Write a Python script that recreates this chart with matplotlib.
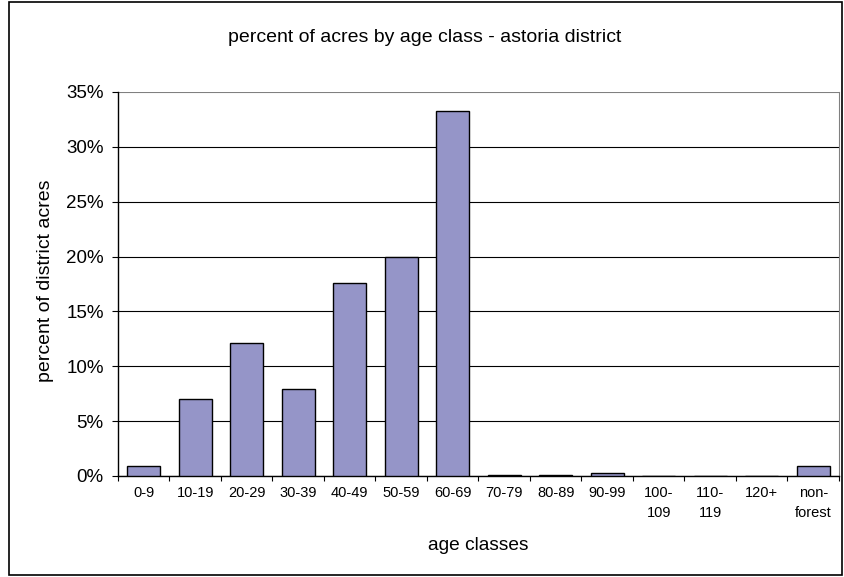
import numpy as np
import matplotlib.pyplot as plt
from matplotlib.patches import Rectangle
from matplotlib.ticker import FuncFormatter

plt.rcParams['font.family'] = ['Liberation Sans', 'DejaVu Sans']

classes = ['0-9', '10-19', '20-29', '30-39', '40-49', '50-59', '60-69',
           '70-79', '80-89', '90-99', '100-\n109', '110-\n119', '120+', 'non-\nforest']
pct_acres = [0.9, 7.0, 12.1, 7.9, 17.6, 20.0, 33.3,
             0.1, 0.1, 0.25, 0.0, 0.0, 0.0, 0.9]
y_ticks = [0, 5, 10, 15, 20, 25, 30, 35]

W, H = 845, 577
fig = plt.figure(figsize=(W / 100, H / 100), dpi=100)
ax = fig.add_axes([118/W, 1 - 476/H, (839-118)/W, (476-92)/H])

x = np.arange(len(classes))
ax.bar(x, pct_acres, width=0.65, color='#9595C8', edgecolor='black', linewidth=1.0, zorder=3)

ax.set_xlim(-0.5, len(classes) - 0.5)
ax.set_ylim(0, 35)
ax.set_yticks(y_ticks)
ax.yaxis.set_major_formatter(FuncFormatter(lambda v, p: '%d%%' % v))
ax.grid(axis='y', color='black', linewidth=0.8, zorder=0)
ax.get_ygridlines()[-1].set_color('#808080')

# category labels centred, ticks on the category boundaries
ax.set_xticks(x)
ax.set_xticklabels(classes, fontsize=10.5, linespacing=1.6)
ax.tick_params(axis='x', length=0, pad=7)
ax.set_xticks(np.arange(-0.5, len(classes)), minor=True)
ax.tick_params(axis='x', which='minor', length=3.5, width=0.8, direction='out')
ax.tick_params(axis='y', length=4.3, width=0.8, direction='out', labelsize=13.5, pad=6)

for s in ['left', 'bottom']:
    ax.spines[s].set_color('black')
    ax.spines[s].set_linewidth(1.0)
ax.spines['top'].set_visible(False)
ax.spines['right'].set_color('#808080')
ax.spines['right'].set_linewidth(0.8)

ax.set_ylabel('percent of district acres', fontsize=14, va='center')
ax.yaxis.set_label_coords((46-118)/721, 0.508)
ax.set_xlabel('age classes', fontsize=13.8, va='center')
ax.xaxis.set_label_coords(0.5, (476-545)/384)
fig.text(425/W, 1 - 38/H, 'percent of acres by age class - astoria district',
         ha='center', va='center', fontsize=14)

# outer chart frame
fig.patches.append(Rectangle((9/W, 2/H), 833/W, 573/H, transform=fig.transFigure,
                             fill=False, edgecolor='black', linewidth=1.2))

fig.savefig('out.png', dpi=100)
